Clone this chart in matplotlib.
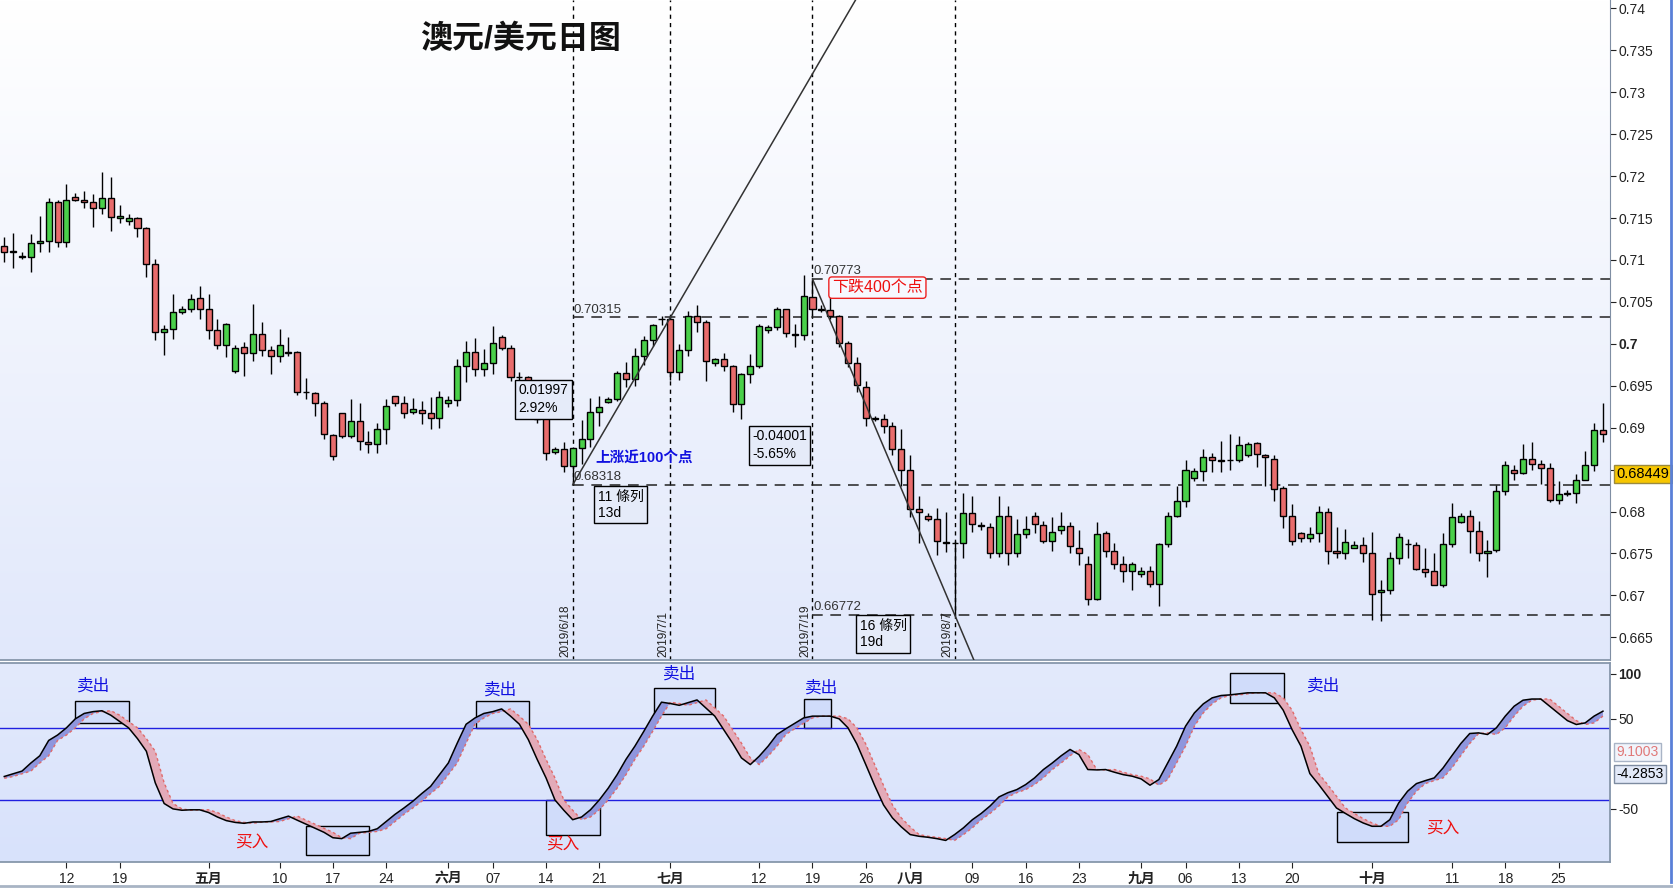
import matplotlib
matplotlib.use('Agg')
import matplotlib.pyplot as plt
import matplotlib.transforms as mtrans
from matplotlib.patches import Rectangle
from matplotlib.colors import LinearSegmentedColormap
from matplotlib.lines import Line2D
import numpy as np
import pandas as pd

plt.rcParams['font.family'] = ['Liberation Sans', 'Noto Sans CJK SC', 'DejaVu Sans']

# daily bars, forex feed with sunday bars (no saturdays)
dates = pd.date_range('2019-04-04', '2019-10-31', freq='D')
dates = dates[dates.dayofweek != 5]

opens = [.7117,.7111,.7104,.7104,.7120,.7123,.7169,.7122,.7175,.7172,
         .7169,.7162,.7174,.7150,.7146,.7150,.7138,.7095,.7014,.7018,
         .7038,.7042,.7055,.7041,.7017,.6999,.6967,.6996,.6989,.7012,
         .6993,.6985,.6990,.6990,.6943,.6941,.6929,.6891,.6917,.6890,
         .6908,.6883,.6881,.6899,.6938,.6930,.6919,.6921,.6918,.6912,
         .6929,.6933,.6974,.6990,.6970,.6977,.7008,.6995,.6961,.6960,
         .6935,.6915,.6871,.6874,.6854,.6876,.6886,.6919,.6931,.6934,
         .6965,.6958,.6985,.7004,.7029,.7030,.6966,.6993,.7033,.7026,
         .6977,.6982,.6974,.6928,.6964,.6974,.7016,.7020,.7041,.7011,
         .7011,.7056,.7042,.7040,.7033,.7001,.6977,.6949,.6912,.6910,
         .6902,.6874,.6849,.6803,.6795,.6791,.6764,.6763,.6762,.6798,
         .6783,.6782,.6750,.6795,.6751,.6773,.6795,.6784,.6765,.6778,
         .6783,.6757,.6738,.6696,.6774,.6753,.6737,.6729,.6725,.6729,
         .6714,.6761,.6795,.6812,.6840,.6848,.6865,.6861,.6861,.6861,
         .6867,.6882,.6868,.6863,.6828,.6795,.6774,.6769,.6774,.6800,
         .6753,.6750,.6757,.6760,.6750,.6704,.6706,.6745,.6761,.6760,
         .6731,.6729,.6712,.6761,.6787,.6795,.6777,.6750,.6754,.6824,
         .6850,.6846,.6863,.6857,.6852,.6814,.6821,.6822,.6838,.6855,
         .6897]
highs = [.7127,.7132,.7110,.7131,.7152,.7174,.7171,.7191,.7180,.7182,
         .7179,.7205,.7199,.7166,.7155,.7151,.7139,.7101,.7022,.7060,
         .7045,.7060,.7069,.7060,.7029,.7025,.6998,.7002,.7048,.7026,
         .6997,.7018,.7008,.6992,.6959,.6942,.6932,.6893,.6918,.6934,
         .6929,.6896,.6905,.6934,.6938,.6938,.6935,.6932,.6936,.6944,
         .6938,.6982,.7003,.7007,.6994,.7021,.7010,.6999,.6966,.6962,
         .6940,.6920,.6877,.6883,.6877,.6909,.6935,.6938,.6937,.6968,
         .6978,.6995,.7009,.7024,.7033,.7032,.7000,.7039,.7046,.7028,
         .6983,.6989,.6975,.6965,.6988,.7024,.7023,.7044,.7042,.7024,
         .7082,.70773,.7046,.7056,.7034,.7003,.6984,.6956,.6914,.6916,
         .6907,.6899,.6867,.6818,.6798,.6804,.6800,.6765,.6822,.6818,
         .6788,.6786,.6818,.6807,.6791,.6795,.6799,.6789,.6794,.6799,
         .6787,.6778,.6747,.6787,.6777,.6762,.6747,.6740,.6734,.6735,
         .6763,.6800,.6830,.6861,.6852,.6874,.6870,.6884,.6893,.6890,
         .6883,.6883,.6869,.6868,.6830,.6809,.6775,.6782,.6807,.6804,
         .6782,.6779,.6765,.6770,.6776,.6718,.6752,.6774,.6767,.6764,
         .6756,.6750,.6774,.6810,.6798,.6802,.6789,.6766,.6832,.6860,
         .6856,.6881,.6883,.6862,.6858,.6837,.6826,.6845,.6872,.6905,
         .6930]
lows = [.7097,.7091,.7101,.7086,.7109,.7109,.7116,.7115,.7170,.7162,
        .7139,.7155,.7135,.7144,.7142,.7127,.7080,.7004,.6987,.7006,
        .7035,.7038,.7030,.7006,.6994,.6984,.6965,.6962,.6980,.6985,
        .6964,.6978,.6986,.6939,.6934,.6914,.6886,.6862,.6888,.6888,
        .6873,.6870,.6870,.6880,.6926,.6912,.6916,.6904,.6898,.6900,
        .6925,.6926,.6955,.6962,.6962,.6964,.6993,.6956,.6953,.6928,
        .6905,.6862,.6869,.6847,.68318,.6857,.6877,.6902,.6929,.6932,
        .6949,.6950,.6975,.6997,.7022,.6957,.6957,.6985,.7014,.6956,
        .6974,.6968,.6919,.6910,.6953,.6971,.7013,.7016,.7008,.6996,
        .7005,.7034,.7038,.7030,.6996,.6972,.6942,.6902,.6908,.6894,
        .6868,.6830,.6794,.6763,.6789,.6748,.6752,.66772,.6745,.6776,
        .6778,.6744,.6746,.6736,.6746,.6769,.6774,.6763,.6753,.6773,
        .6750,.6736,.6689,.6695,.6746,.6732,.6716,.6706,.6722,.6710,
        .6687,.6758,.6794,.6806,.6836,.6837,.6847,.6847,.6849,.6859,
        .6865,.6853,.6830,.6812,.6780,.6760,.6764,.6764,.6764,.6738,
        .6745,.6743,.6756,.6740,.6671,.6670,.6702,.6738,.6745,.6730,
        .6722,.6712,.6710,.6758,.6786,.6751,.6741,.6722,.6752,.6820,
        .6838,.6845,.6850,.6833,.6811,.6809,.6818,.6810,.6838,.6848,
        .6883]
closes = [.7110,.7110,.7104,.7120,.7123,.7169,.7122,.7171,.7172,.7169,
          .7162,.7174,.7151,.7152,.7150,.7138,.7095,.7014,.7018,.7038,
          .7042,.7054,.7041,.7017,.6999,.7024,.6995,.6989,.7012,.6993,
          .6985,.6998,.6989,.6942,.6942,.6929,.6892,.6866,.6890,.6908,
          .6884,.6881,.6899,.6926,.6930,.6918,.6922,.6918,.6912,.6936,
          .6933,.6974,.6990,.6970,.6977,.7001,.6995,.6960,.6960,.6935,
          .6910,.6870,.6874,.6854,.6876,.6886,.6919,.6925,.6934,.6965,
          .6958,.6985,.7004,.7022,.70295,.6966,.6993,.7033,.7026,.6980,
          .6982,.6974,.6928,.6964,.6974,.7021,.7020,.7041,.7013,.7011,
          .7057,.7041,.7040,.7033,.7001,.6977,.6951,.6912,.6910,.6902,
          .6874,.6849,.6803,.6800,.6791,.6765,.6762,.6762,.6798,.6785,
          .6783,.6750,.6795,.6751,.6773,.6779,.6785,.6765,.6776,.6783,
          .6759,.6750,.6696,.6773,.6753,.6737,.6729,.6737,.6729,.6714,
          .6761,.6795,.6812,.6849,.6848,.6865,.6861,.6860,.6862,.6879,
          .6880,.6869,.6865,.6827,.6795,.6765,.6769,.6773,.6800,.6753,
          .6750,.6764,.6760,.6750,.6702,.6706,.6745,.6770,.6761,.6731,
          .6728,.6712,.6761,.6793,.6795,.6777,.6750,.6753,.6824,.6856,
          .6846,.6863,.6857,.6852,.6814,.6821,.6821,.6838,.6855,.6897,
          .6892]

# oscillator (black line) and its signal (red dashed)
osc_main = [-14,-11,-8,1,9,26,32,40,50,56,
            58,59,54,47,40,28,14,-21,-44,-50,
            -51.5,-51,-51,-54,-59,-63,-65,-66,-64.5,-64.5,
            -64,-61,-58,-62.6,-67,-71.5,-76,-82,-83,-77,
            -76,-75,-72,-64,-56,-49,-41.5,-33,-25,-12,
            1,23,44,51,56,58,61,53,44,27,
            5,-15.6,-40,-51.5,-62,-59,-51,-40,-27,-12,
            5,19.6,36,53,68.5,67,65,68,71,62,
            53,38,23,6.6,-0.8,8.5,19.6,32.6,39,45,
            51,53,53,53,50,40,22,-0.8,-24,-45.6,
            -60,-70,-78.5,-80.4,-81.5,-83,-85,-78.5,-71,-62,
            -55,-46.7,-36.7,-32,-28.6,-23,-15.6,-6.3,1,9,
            16,10.3,-6.3,-6.7,-6.3,-9.3,-12,-13.7,-16.7,-23.7,
            -17.4,1,19.6,41.8,56.6,66.6,73.3,75.9,76.6,77.7,
            78.9,78.9,78.9,73.3,59.6,38,19.6,-10.8,-23,-36,
            -49,-55,-60.8,-65.6,-69.3,-69.3,-62,-43.4,-30.4,-21.9,
            -18.6,-15.6,-4.5,9.2,22.6,33.7,34.4,32.6,40,53,
            64,70.7,72,72,64,55.9,48,43.7,45.5,53,
            58.5]
osc_sig = [-16,-14,-11,-8,1,9,26,32,40,50,
           56,58,59,54,47,40,28,14,-21,-44,
           -50,-51.5,-51,-51,-54,-59,-63,-65,-66,-64.5,
           -64.5,-64,-61,-58,-62.6,-67,-71.5,-76,-82,-83,
           -77,-76,-75,-72,-64,-56,-49,-41.5,-33,-25,
           -12,1,23,44,51,56,58,61,53,44,
           27,5,-15.6,-40,-51.5,-62,-59,-51,-40,-27,
           -12,5,19.6,36,53,68.5,67,65,68,71,
           62,53,38,23,6.6,-0.8,8.5,19.6,32.6,39,
           45,51,53,53,53,50,40,22,-0.8,-24,
           -45.6,-60,-70,-78.5,-80.4,-81.5,-83,-85,-78.5,-71,
           -62,-55,-46.7,-36.7,-32,-28.6,-23,-15.6,-6.3,1,
           9,16,10.3,-6.3,-6.7,-6.3,-9.3,-12,-13.7,-16.7,
           -23.7,-17.4,1,19.6,41.8,56.6,66.6,73.3,75.9,76.6,
           77.7,78.9,78.9,78.9,73.3,59.6,38,19.6,-10.8,-23,
           -36,-49,-55,-60.8,-65.6,-69.3,-69.3,-62,-43.4,-30.4,
           -21.9,-18.6,-15.6,-4.5,9.2,22.6,33.7,34.4,32.6,40,
           53,64,70.7,72,72,64,55.9,48,43.7,45.5,
           53]

tick_dates = ['2019-04-12','2019-04-19','2019-05-01','2019-05-10','2019-05-17','2019-05-24',
              '2019-06-02','2019-06-07','2019-06-14','2019-06-21','2019-07-01','2019-07-12',
              '2019-07-19','2019-07-26','2019-08-01','2019-08-09','2019-08-16','2019-08-23',
              '2019-09-01','2019-09-06','2019-09-13','2019-09-20','2019-10-01','2019-10-11',
              '2019-10-18','2019-10-25']
tick_labels = ['12','19','五月','10','17','24','六月','07','14','21','七月','12','19','26',
               '八月','09','16','23','九月','06','13','20','十月','11','18','25']

# measuring marks
mark_dates = ['2019-06-18', '2019-07-01', '2019-07-19', '2019-08-07']
mark_text = ['2019/6/18', '2019/7/1', '2019/7/19', '2019/8/7']
up_low, up_high = 0.68318, 0.70315
dn_high, dn_low = 0.70773, 0.66772
last_price = 0.68449

# signal boxes on the oscillator: (i0, i1, v0, v1, text, text i, text v)
sig_boxes = [(8.0, 14.1, 45.5, 70.3, '卖出', 10.0, 86),
             (34.0, 41.1, -101, -68.6, '买入', 27.9, -88),
             (53.1, 59.1, 40, 70.3, '卖出', 55.9, 82),
             (61.0, 67.1, -79, -39.7, '买入', 62.9, -90),
             (73.1, 80.0, 55.5, 84.4, '卖出', 76.0, 100),
             (90.1, 93.1, 40, 72, '卖出', 92.0, 84),
             (138.0, 144.1, 67.7, 101, '卖出', 148.5, 87),
             (150.1, 158.1, -86.7, -53.4, '买入', 162.0, -73)]

o = np.array(opens); h = np.array(highs); l = np.array(lows); c = np.array(closes)
n = len(dates)
x = np.arange(n)
pos = {d.strftime('%Y-%m-%d'): k for k, d in enumerate(dates)}

fig = plt.figure(figsize=(16.74, 8.91), dpi=100)
ax = fig.add_axes([0, 0.2593, 0.9618, 0.7407])
ax2 = fig.add_axes([0, 0.0325, 0.9618, 0.2234])

xmin, xmax = -0.48, 180.8
ymin, ymax = 0.6623, 0.7410

grad = np.linspace(0, 1, 256).reshape(-1, 1)
ax.imshow(grad, extent=[xmin, xmax, ymin, ymax], aspect='auto', origin='upper',
          cmap=LinearSegmentedColormap.from_list('bg1', ['#ffffff', '#e1e8fb']), zorder=0)

# candles
ax.vlines(x, l, h, color='black', lw=1, zorder=2)
cols = np.where(c > o, '#4ad04a', np.where(c < o, '#e86c6c', 'black'))
body = np.maximum(np.abs(c - o), 0.00007)
ax.bar(x, body, bottom=np.minimum(o, c), width=0.68, color=cols,
       edgecolor='black', linewidth=1, zorder=3)

# vertical date markers
for d, t in zip(mark_dates, mark_text):
    k = pos[d]
    ax.axvline(k, color='black', lw=1, ls=(0, (3, 3)), zorder=1)
    ax.text(k - 0.15, ymin + 0.0004, t, rotation=90, ha='right', va='bottom',
            fontsize=8.5, color='#222222')

i_a, i_b, i_c, i_d = [pos[d] for d in mark_dates]
dash = (0, (7, 5))
for lev, start in [(dn_high, i_c), (up_high, i_a), (up_low, i_a), (dn_low, i_c)]:
    ax.hlines(lev, start, xmax, color='#222222', lw=1.1, ls=dash, zorder=1)
    ax.text(start + 0.1, lev + 0.0002, '%.5f' % lev, fontsize=9.5, ha='left', va='bottom',
            color='#333333', zorder=5)

# trend lines
s1 = (up_high - up_low) / (i_b - i_a)
ax.plot([i_a, i_a + 34], [up_low, up_low + s1 * 34], color='#333333', lw=1.1, zorder=4)
s2 = (dn_low - dn_high) / (i_d - i_c)
ax.plot([i_c, i_c + 20], [dn_high, dn_high + s2 * 20], color='#333333', lw=1.1, zorder=4)

box = dict(boxstyle='square,pad=0.25', fc='#e5ebf9', ec='black', lw=1)
ax.text(57.9, 0.6953, '0.01997\n2.92%', fontsize=10, va='top', ha='left',
        bbox=box, linespacing=1.35, zorder=6)
ax.text(84.2, 0.6898, '-0.04001\n-5.65%', fontsize=10, va='top', ha='left',
        bbox=box, linespacing=1.35, zorder=6)
ax.text(66.8, 0.6826, '11 條列\n13d', fontsize=10, va='top', ha='left',
        bbox=box, linespacing=1.2, zorder=6)
ax.text(96.3, 0.6672, '16 條列\n19d', fontsize=10, va='top', ha='left',
        bbox=box, linespacing=1.2, zorder=6)
ax.text(66.5, 0.6863, '上涨近100个点', fontsize=10.5, color='#1010e0', fontweight='bold',
        ha='left', va='center', zorder=6)
ax.text(93.2, 0.7067, '下跌400个点', fontsize=11.5, color='#ee1010', ha='left', va='center',
        bbox=dict(boxstyle='round,pad=0.2', fc='#f6f8ff', ec='#ee2020', lw=1), zorder=6)

ax.text(0.323, 0.939, '澳元/美元日图', transform=ax.transAxes, fontsize=23,
        fontweight='bold', ha='center', va='center', color='#111111')

ax.set_xlim(xmin, xmax)
ax.set_ylim(ymin, ymax)
ax.set_xticks([])
ax.yaxis.tick_right()
yt = np.round(np.arange(0.665, 0.7401, 0.005), 3)
ax.set_yticks(yt)
# the 0.685 label sits under the last-price tag
ax.set_yticklabels(['' if abs(v - 0.685) < 1e-6 else '%g' % v for v in yt])
for t in ax.get_yticklabels():
    if t.get_text() == '0.7':
        t.set_fontweight('bold')
ax.tick_params(axis='y', direction='out', length=4, labelsize=10, pad=2, colors='#222222')
for s in ['left', 'top']:
    ax.spines[s].set_visible(False)
ax.spines['right'].set_color('#7f8ea3')
ax.spines['bottom'].set_color('#8797ab')
ax.spines['bottom'].set_linewidth(1.3)

tr = mtrans.blended_transform_factory(ax.transAxes, ax.transData)
ax.text(1.004, last_price, '%.5f' % last_price, transform=tr, fontsize=10.5, va='center',
        ha='left', bbox=dict(boxstyle='square,pad=0.15', fc='#f7c600', ec='#9a8a40', lw=1))

# oscillator panel
m = np.array(osc_main); sg = np.array(osc_sig)
ax2.imshow(grad, extent=[xmin, xmax, -109, 112], aspect='auto', origin='upper',
           cmap=LinearSegmentedColormap.from_list('bg2', ['#e3eafc', '#d8e2fb']), zorder=0)
for b in sig_boxes:
    ax2.add_patch(Rectangle((b[0], b[2]), b[1] - b[0], b[3] - b[2], fc='#d0dcfa',
                            ec='black', lw=1, zorder=1))
    ax2.text(b[5], b[6], b[4], fontsize=12, ha='center', va='center', zorder=5,
             color='#1010e0' if b[4] == '卖出' else '#ee1010')
ax2.axhline(40, color='#2020e0', lw=1, zorder=1.5)
ax2.axhline(-40, color='#2020e0', lw=1, zorder=1.5)
ax2.fill_between(x, m, sg, where=m >= sg, interpolate=True, color='#8f96dd', lw=0, zorder=2)
ax2.fill_between(x, m, sg, where=m < sg, interpolate=True, color='#e3aab8', lw=0, zorder=2)
ax2.plot(x, sg, color='#e06a6a', lw=1, ls=(0, (2, 2)), zorder=3)
ax2.plot(x, m, color='black', lw=1.1, zorder=4)

ax2.set_xlim(xmin, xmax)
ax2.set_ylim(-109, 112)
ax2.yaxis.tick_right()
ax2.set_yticks([100, 50, -50])
ax2.set_yticklabels(['100', '50', '-50'])
ax2.get_yticklabels()[0].set_fontweight('bold')
ax2.tick_params(axis='y', direction='out', length=4, labelsize=10, pad=2, colors='#222222')
ax2.set_xticks([pos[d] for d in tick_dates])
ax2.set_xticklabels(tick_labels)
for t in ax2.get_xticklabels():
    if '月' in t.get_text():
        t.set_fontweight('bold')
ax2.tick_params(axis='x', direction='out', length=4, labelsize=10, pad=3, colors='#222222')
for s in ax2.spines.values():
    s.set_color('#8797ab')
    s.set_linewidth(1.3)
ax2.spines['left'].set_visible(False)

tr2 = mtrans.blended_transform_factory(ax2.transAxes, ax2.transData)
ax2.text(1.004, 13, '9.1003', transform=tr2, fontsize=10, va='center', ha='left',
         color='#e07878', bbox=dict(boxstyle='square,pad=0.15', fc='#f1f4fb', ec='#a9b4c6', lw=1))
ax2.text(1.004, -11, '-4.2853', transform=tr2, fontsize=10, va='center', ha='left',
         color='black', bbox=dict(boxstyle='square,pad=0.15', fc='#e2e9f8', ec='#7d8ba0', lw=1))

fig.add_artist(Line2D([0.9985, 0.9985], [0.01, 1], color='#5a80d8', lw=2))
fig.add_artist(Line2D([0, 1], [0.006, 0.006], color='#a8b4c4', lw=2))

plt.savefig('out.png', dpi=100)
